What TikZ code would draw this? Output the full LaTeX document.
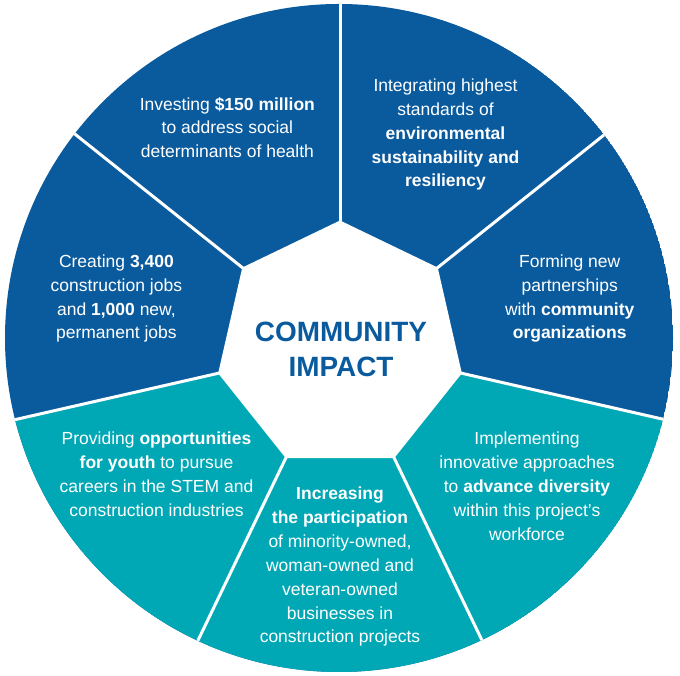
\documentclass[tikz,border=0pt]{standalone}
\usepackage{fontspec}
\setmainfont{Liberation Sans}
\definecolor{cblue}{RGB}{10,91,158}
\definecolor{cteal}{RGB}{0,168,181}
\begin{document}
\begin{tikzpicture}[x=1pt,y=1pt,
  lbl/.style={text=white, align=center, font=\fontsize{17.5}{23.9}\selectfont, inner sep=0pt},
  sep/.style={white, line width=3pt},
  title/.style={text=cblue, align=center, font=\fontsize{27.9}{35}\selectfont\bfseries, inner sep=0pt}]
\useasboundingbox (0,0) rectangle (680,676);
\coordinate (H) at (340,330.5);
\coordinate (O) at (339,338);
\begin{scope}
  \clip (O) circle (334);
  \fill[cblue] (O) circle (334);
  \fill[cteal] (H) -- +(-12.857:600) -- +(-60:600) -- +(-120:600) -- +(-167.143:600) -- cycle;
  \foreach \a in {90, 38.571, -12.857, -64.286, -115.714, -167.143, 141.429}
    \draw[sep] (H) ++(\a:124) -- +(\a:400);
\end{scope}
\fill[white] (H) +(90:125) -- +(141.429:125) -- +(192.857:125) -- +(244.286:125)
  -- +(295.714:125) -- +(347.143:125) -- +(38.571:125) -- cycle;
\node[title] (center) at (341,327) {COMMUNITY\\IMPACT};
\node[lbl] (s1) at (227.4,548.4) {Investing \textbf{\$150 million}\\to address social\\determinants of health};
\node[lbl] (s2) at (445.5,541.4) {Integrating highest\\standards of\\\textbf{environmental}\\\textbf{sustainability and}\\\textbf{resiliency}};
\node[lbl] (s3) at (569.7,377.4) {Forming new\\partnerships\\with \textbf{community}\\\textbf{organizations}};
\node[lbl] (s4) at (527,190) {Implementing\\innovative approaches\\to \textbf{advance diversity}\\within this project’s\\workforce};
\node[lbl] (s5) at (340,109.3) {\textbf{Increasing}\\\textbf{the participation}\\of minority-owned,\\woman-owned and\\veteran-owned\\businesses in\\construction projects};
\node[lbl] (s6) at (156.5,202) {Providing \textbf{opportunities}\\\textbf{for youth} to pursue\\careers in the STEM and\\construction industries};
\node[lbl] (s7) at (116.4,377.4) {Creating \textbf{3,400}\\construction jobs\\and \textbf{1,000} new,\\permanent jobs};
\end{tikzpicture}
\end{document}
